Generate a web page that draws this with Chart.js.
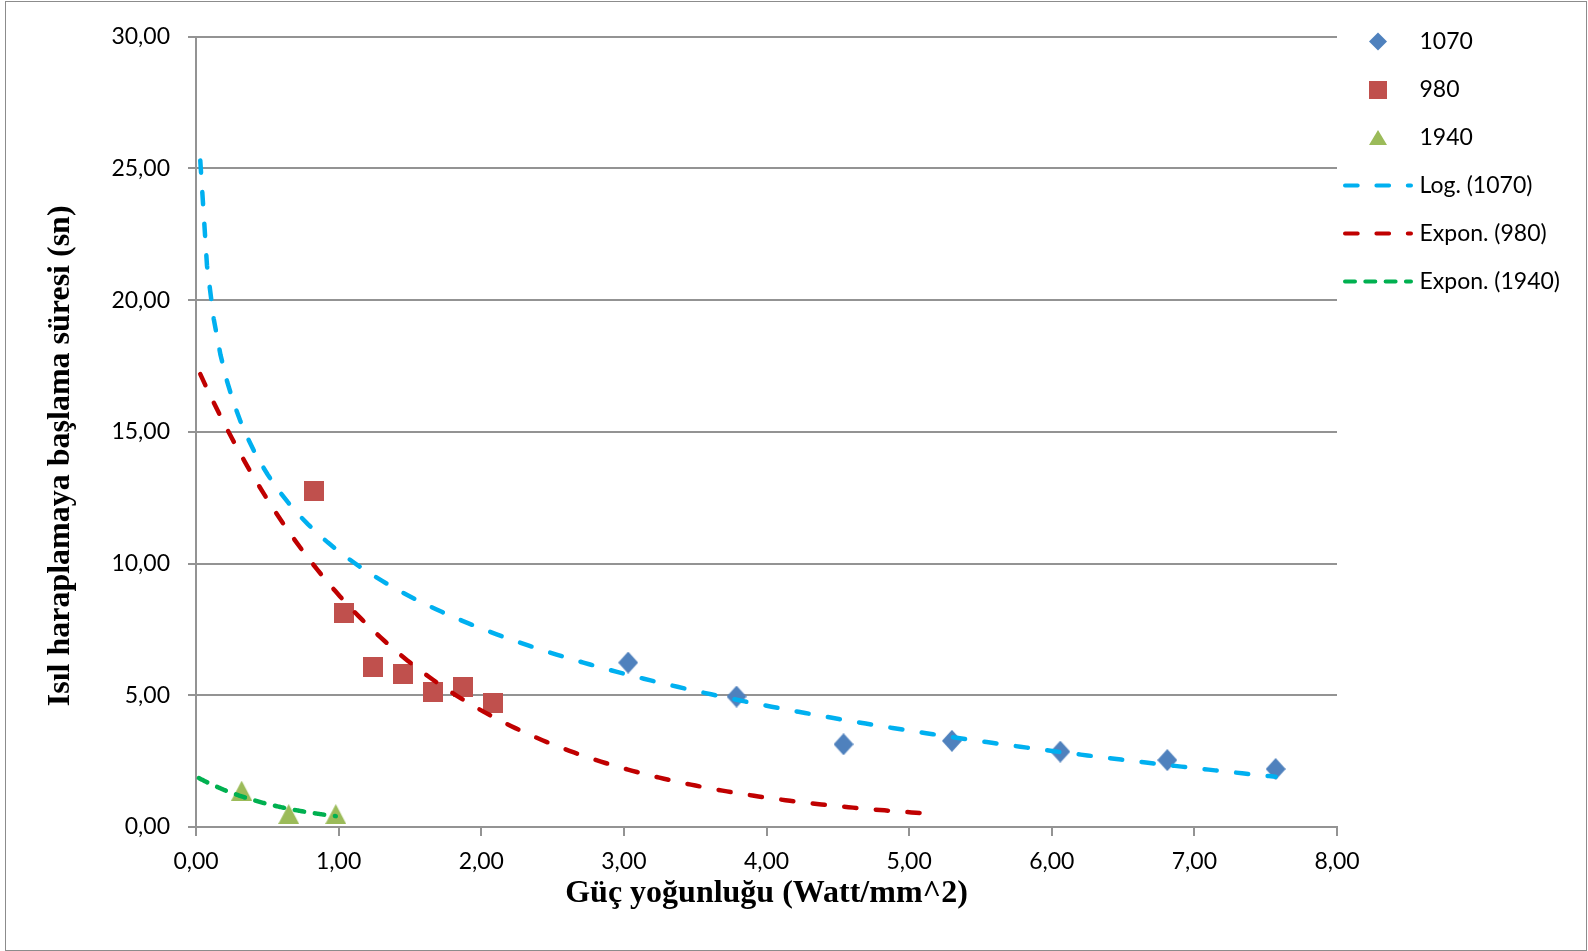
<!DOCTYPE html>
<html>
<head>
<meta charset="utf-8">
<script src="https://cdn.jsdelivr.net/npm/chart.js@4.4.0/dist/chart.umd.min.js"></script>
<style>
html,body{margin:0;padding:0;background:#fff;overflow:hidden;}
#frame{position:absolute;left:5px;top:1px;width:1582px;height:950px;box-sizing:border-box;border:1px solid #8c8c8c;}
#c{position:absolute;left:0;top:0;}
</style>
</head>
<body>
<div id="frame"></div>
<canvas id="c" width="1588" height="951"></canvas>
<script>
// ---- data ----
const seriesNames = ['1070', '980', '1940'];
const x1070 = [3.03, 3.79, 4.54, 5.30, 6.06, 6.81, 7.57];
const y1070 = [6.24, 4.95, 3.14, 3.27, 2.86, 2.54, 2.20];
const x980  = [0.83, 1.04, 1.24, 1.45, 1.66, 1.87, 2.08];
const y980  = [12.77, 8.11, 6.09, 5.80, 5.11, 5.30, 4.70];
const x1940 = [0.32, 0.65, 0.98];
const y1940 = [1.38, 0.49, 0.49];

const trendNames = ['Log. (1070)', 'Expon. (980)', 'Expon. (1940)'];
const trendRange1070 = [0.03, 7.57];
const trendRange980  = [0.03, 5.08];
const trendRange1940 = [0.02, 0.98];

const xAxisTitle = 'Güç yoğunluğu (Watt/mm^2)';
const yAxisTitle = 'Isıl haraplamaya başlama süresi (sn)';
const xMin = 0, xMax = 8, xStep = 1;
const yMin = 0, yMax = 30, yStep = 5;

// ---- helpers ----
const pts = (xs, ys) => xs.map((x, i) => ({x: x, y: ys[i]}));
function linFit(xs, ys) {
  const n = xs.length;
  const mx = xs.reduce((a, b) => a + b, 0) / n;
  const my = ys.reduce((a, b) => a + b, 0) / n;
  let sxy = 0, sxx = 0;
  for (let i = 0; i < n; i++) { sxy += (xs[i] - mx) * (ys[i] - my); sxx += (xs[i] - mx) ** 2; }
  const k = sxy / sxx;
  return {k: k, b: my - k * mx};
}
function logTrend(xs, ys, range) {
  const f = linFit(xs.map(Math.log), ys);
  return sample(range, x => f.k * Math.log(x) + f.b);
}
function expTrend(xs, ys, range) {
  const f = linFit(xs, ys.map(Math.log));
  return sample(range, x => Math.exp(f.b) * Math.exp(f.k * x));
}
function sample(range, fn) {
  const out = [], N = 160;
  for (let i = 0; i <= N; i++) { const x = range[0] + (range[1] - range[0]) * i / N; out.push({x: x, y: fn(x)}); }
  return out;
}
function icon(w, h, draw) {
  const c = document.createElement('canvas'); c.width = w; c.height = h;
  draw(c.getContext('2d')); return c;
}
const C_DIAMOND = '#4F81BD', C_SQUARE = '#C0504D', C_TRI = '#9BBB59';
const C_LOG = '#00B0F0', C_EXP980 = '#C00000', C_EXP1940 = '#00B050';
const LW = 4.5;
const DASH_LONG = [12.2, 19.5], DASH_SHORT = [9.5, 10.8];

// plot markers
const mDiamond = icon(20, 22, g => { g.fillStyle = C_DIAMOND; g.beginPath(); g.moveTo(10, 0); g.lineTo(20, 11); g.lineTo(10, 22); g.lineTo(0, 11); g.closePath(); g.fill(); });
const mSquare = icon(20, 20, g => { g.fillStyle = C_SQUARE; g.fillRect(0, 0, 20, 20); });
const mTri = icon(21, 20, g => { g.fillStyle = C_TRI; g.beginPath(); g.moveTo(10.5, 0); g.lineTo(21, 20); g.lineTo(0, 20); g.closePath(); g.fill(); });

// legend icons (100x31, icon centred at 43,15.5)
const LX = 43, LY = 15.5;
const lDiamond = icon(100, 31, g => { g.fillStyle = C_DIAMOND; g.beginPath(); g.moveTo(LX, LY - 9); g.lineTo(LX + 9, LY); g.lineTo(LX, LY + 9); g.lineTo(LX - 9, LY); g.closePath(); g.fill(); });
const lSquare = icon(100, 31, g => { g.fillStyle = C_SQUARE; g.fillRect(LX - 9, 7, 18, 18); });
const lTri = icon(100, 31, g => { g.fillStyle = C_TRI; g.beginPath(); g.moveTo(LX, 8); g.lineTo(LX + 9, 23); g.lineTo(LX - 9, 23); g.closePath(); g.fill(); });
function lLine(color, dash) {
  return icon(100, 31, g => { g.strokeStyle = color; g.lineWidth = 4; g.lineCap = 'round'; g.setLineDash(dash); g.beginPath(); g.moveTo(LX - 33, LY); g.lineTo(LX + 33, LY); g.stroke(); });
}
const legendIcons = [lDiamond, lSquare, lTri, lLine(C_LOG, [12.7, 18.7]), lLine(C_EXP980, [12.7, 18.7]), lLine(C_EXP1940, [10, 10.3])];
const legendNames = seriesNames.concat(trendNames);

const fmt = v => Number(v).toFixed(2).replace('.', ',');
const GRID = '#939393';
const tickFont = {family: 'Lato', size: 23};
const titleFont = {family: 'Liberation Serif', size: 32, weight: 'bold'};

const trendLine = (label, data, color, dash) => ({
  label: label, data: data, showLine: true, pointRadius: 0, pointHoverRadius: 0,
  borderColor: color, backgroundColor: color, borderWidth: LW, borderDash: dash,
  borderCapStyle: 'round', fill: false, order: 1
});
const markers = (label, data, img, color) => ({
  label: label, data: data, pointStyle: img, pointRadius: 10, pointHoverRadius: 10,
  backgroundColor: color, borderColor: color, showLine: false, order: 2
});

const chart = new Chart(document.getElementById('c'), {
  type: 'scatter',
  data: {
    datasets: [
      markers(seriesNames[0], pts(x1070, y1070), mDiamond, C_DIAMOND),
      markers(seriesNames[1], pts(x980, y980), mSquare, C_SQUARE),
      markers(seriesNames[2], pts(x1940, y1940), mTri, C_TRI),
      trendLine(trendNames[0], logTrend(x1070, y1070, trendRange1070), C_LOG, DASH_LONG),
      trendLine(trendNames[1], expTrend(x980, y980, trendRange980), C_EXP980, DASH_LONG),
      trendLine(trendNames[2], expTrend(x1940, y1940, trendRange1940), C_EXP1940, DASH_SHORT)
    ]
  },
  options: {
    responsive: false,
    animation: false,
    events: [],
    layout: {padding: {top: 5, right: 30, bottom: 0, left: 0}},
    plugins: {
      tooltip: {enabled: false},
      legend: {
        position: 'right', align: 'start',
        labels: {
          usePointStyle: true, pointStyleWidth: 46, padding: 25,
          font: {family: 'Lato', size: 23}, color: '#000',
          generateLabels: () => legendNames.map((t, i) => ({
            text: t, pointStyle: legendIcons[i], datasetIndex: i, hidden: false,
            fillStyle: 'rgba(0,0,0,0)', strokeStyle: 'rgba(0,0,0,0)', lineWidth: 0, fontColor: '#000'
          }))
        }
      }
    },
    scales: {
      xTop: {
        type: 'linear', position: 'top', display: true,
        ticks: {display: false}, grid: {display: false}, border: {display: false},
        afterFit: s => { s.height = 31.7; }
      },
      x: {
        type: 'linear', position: 'bottom', min: xMin, max: xMax,
        ticks: {stepSize: xStep, callback: fmt, font: tickFont, color: '#000', padding: 12, maxRotation: 0},
        grid: {drawOnChartArea: false, drawTicks: true, tickLength: 9, color: GRID, lineWidth: 2},
        border: {display: true, color: GRID, width: 2},
        title: {display: true, text: xAxisTitle, font: titleFont, color: '#000', padding: {top: 0, bottom: 37.8}},
        afterFit: s => { s.height = 124; }
      },
      y: {
        type: 'linear', position: 'left', min: yMin, max: yMax,
        ticks: {stepSize: yStep, callback: fmt, font: tickFont, color: '#000', padding: 18},
        grid: {color: GRID, lineWidth: 2, drawTicks: true, tickLength: 8},
        border: {display: true, color: GRID, width: 2},
        title: {display: true, text: yAxisTitle + '      ', font: titleFont, color: '#000', padding: {top: 41.8, bottom: 0}},
        afterFit: s => { s.width = 196; }
      }
    }
  }
});
// put the right edge of the plot area where the reference has it
const delta = chart.chartArea.right - 1337;
if (Math.abs(delta) > 0.01) {
  chart.options.layout.padding.right += delta;
  chart.update();
}
</script>
</body>
</html>
